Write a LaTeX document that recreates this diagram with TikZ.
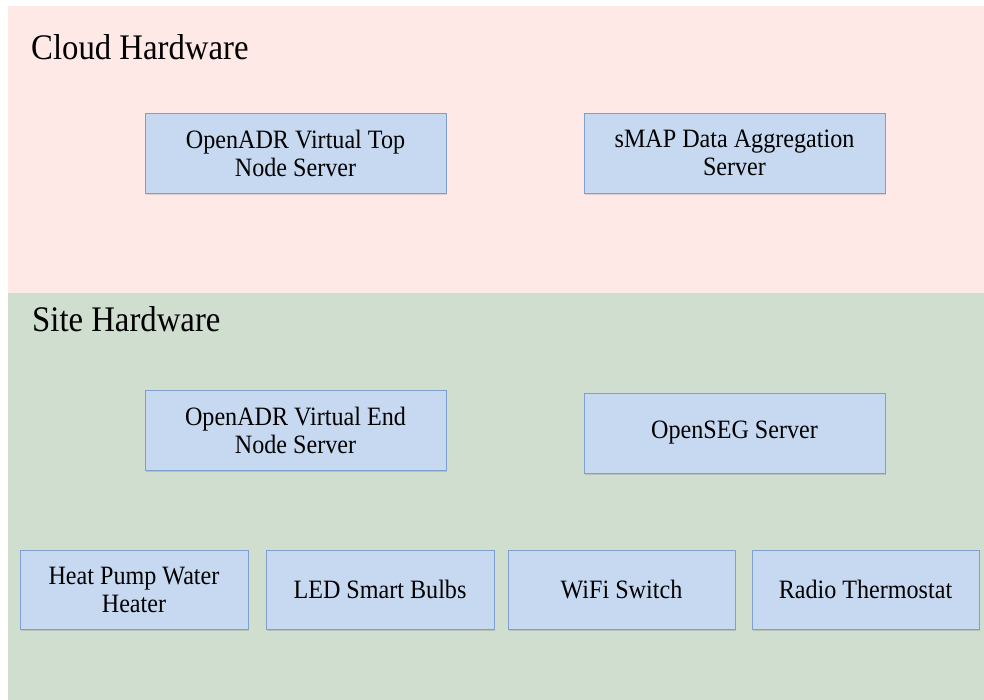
\documentclass[tikz,border=0pt]{standalone}
\usepackage{fontspec}
\setmainfont{Liberation Serif}[FakeStretch=0.91]
\usetikzlibrary{shadows}

\definecolor{cloudbg}{HTML}{FFE9E7}
\definecolor{sitebg}{HTML}{CFDECF}
\definecolor{boxfill}{HTML}{C6D9F1}
\definecolor{boxline}{HTML}{7F9FCF}

\begin{document}
\begin{tikzpicture}[x=1pt,y=-1pt]
		
		% Define basic styles
		\tikzset{
			hwbox/.style={
				rectangle, draw=boxline, fill=boxfill, line width=0.9pt,
				minimum width=301pt, minimum height=80pt, inner sep=0pt,
				align=center, font=\fontsize{26.5}{28}\selectfont,
				drop shadow={shadow xshift=1pt, shadow yshift=-2pt, fill=black, opacity=0.12}
			},
			device/.style={
				hwbox, minimum width=228pt, minimum height=79pt
			},
			zone/.style={
				anchor=base west, inner sep=0pt, font=\fontsize{36}{40}\selectfont
			}
		}
		
		\useasboundingbox (0,0) rectangle (984,700);
		
		% Backgrounds
		\fill[white] (0,0) rectangle (984,700);
		\fill[cloudbg] (8,6) rectangle (984,293);
		\fill[sitebg] (8,293) rectangle (984,700);
		
		% Zone titles
		\node[zone] (cloud) at (31,60) {Cloud Hardware};
		\node[zone] (site) at (32,331) {Site Hardware};
		
		% Nodes
		\node[hwbox] (topnode) at (295.5,153) {OpenADR Virtual Top\\Node Server};
		\node[hwbox] (smap) at (734.5,153) {sMAP Data Aggregation\\Server};
		\node[hwbox] (endnode) at (295.5,430) {OpenADR Virtual End\\Node Server};
		\node[hwbox] (openseg) at (734.5,433) {OpenSEG Server};
		
		\node[device] (heater) at (134,589.5) {Heat Pump Water\\Heater};
		\node[device] (bulbs) at (380,589.5) {LED Smart Bulbs};
		\node[device, minimum width=227pt] (switch) at (621.5,589.5) {WiFi Switch};
		\node[device, minimum width=227pt] (thermo) at (865.5,589.5) {Radio Thermostat};
		
	\end{tikzpicture}
\end{document}
